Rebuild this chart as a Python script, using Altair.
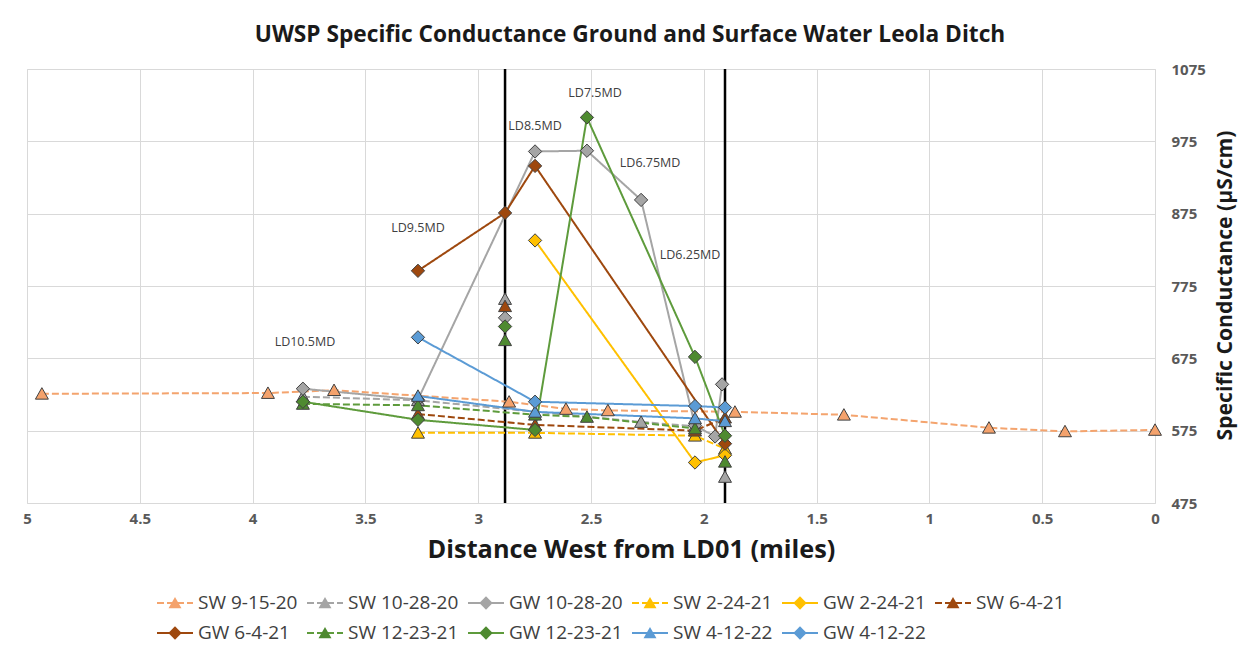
import altair as alt
import pandas as pd

# ---------------- data ----------------
SERIES = ["SW 9-15-20", "SW 10-28-20", "GW 10-28-20", "SW 2-24-21", "GW 2-24-21", "SW 6-4-21",
          "GW 6-4-21", "SW 12-23-21", "GW 12-23-21", "SW 4-12-22", "GW 4-12-22"]
KEYS = ["%02d" % (i + 1) for i in range(len(SERIES))]

LINE_COLORS = ["#F4A46E", "#A5A5A5", "#A5A5A5", "#FFC000", "#FFC000", "#9E480E",
               "#9E480E", "#5E9B3C", "#5E9B3C", "#5B9BD5", "#5B9BD5"]
FILL_COLORS = ["#F4A26C", "#A5A5A5", "#A5A5A5", "#FFC000", "#FFC000", "#9E480E",
               "#9E480E", "#4E8A30", "#4E8A30", "#5B9BD5", "#5B9BD5"]
DASHED = [7, 3]
SOLID = [1, 0]
DASHES = [DASHED, DASHED, SOLID, DASHED, SOLID, DASHED, SOLID, DASHED, SOLID, SOLID, SOLID]
TRI = "M0,-0.33L0.35,0.29L-0.35,0.29Z"
DIA = "M0,-0.36L0.36,0L0,0.36L-0.36,0Z"
SHAPES = [TRI, TRI, DIA, TRI, DIA, TRI, DIA, TRI, DIA, TRI, DIA]

# connected samples (distance west of LD01 in miles, specific conductance in uS/cm)
SW_0915_X = [4.934, 3.932, 3.639, 2.863, 2.611, 2.425, 1.862, 1.379, 0.736, 0.399, 0.0]
SW_0915_Y = [626, 627, 631, 615, 605, 603, 601, 597, 579, 574, 576]
SW_1028_X = [3.777, 3.267, 2.278, 2.039]
SW_1028_Y = [622, 617, 587, 581]
GW_1028_X = [3.777, 3.267, 2.748, 2.518, 2.278, 2.039, 1.950, 1.919]
GW_1028_Y = [633, 618, 961, 962, 894, 582, 567, 639]
SW_0224_X = [3.267, 2.748, 2.039, 1.906]
SW_0224_Y = [572, 572, 568, 550]
GW_0224_X = [2.748, 2.039, 1.906]
GW_0224_Y = [838, 531, 541]
SW_0604_X = [3.267, 2.748, 2.039, 1.906]
SW_0604_Y = [598, 583, 575, 593]
GW_0604_X = [3.267, 2.881, 2.748, 1.906]
GW_0604_Y = [796, 876, 941, 557]
SW_1223_X = [3.777, 3.267, 2.748, 2.518, 2.039]
SW_1223_Y = [612, 610, 597, 594, 578]
GW_1223_X = [3.777, 3.267, 2.748, 2.518, 2.039, 1.906]
GW_1223_Y = [615, 590, 576, 1008, 677, 568]
SW_0412_X = [3.267, 2.748, 2.039, 1.906]
SW_0412_Y = [623, 601, 592, 588]
GW_0412_X = [3.267, 2.748, 2.039, 1.906]
GW_0412_Y = [704, 615, 609, 607]

# unconnected samples
LONE_SERIES = ["SW 10-28-20", "SW 6-4-21", "GW 10-28-20", "GW 12-23-21", "SW 12-23-21",
               "SW 10-28-20", "SW 12-23-21"]
LONE_X = [2.881, 2.881, 2.881, 2.881, 2.881, 1.906, 1.906]
LONE_Y = [757, 747, 731, 719, 700, 511, 532]

# site labels
SITE_LABELS = ["LD10.5MD", "LD9.5MD", "LD8.5MD", "LD7.5MD", "LD6.75MD", "LD6.25MD"]
SITE_X = [3.768, 3.267, 2.748, 2.482, 2.238, 2.061]
SITE_Y = [698, 855, 996, 1042, 945, 818]

# reference lines
ROAD_X = [2.881, 1.906]

X_TICKS = [0, 0.5, 1, 1.5, 2, 2.5, 3, 3.5, 4, 4.5, 5]
Y_TICKS = [475, 575, 675, 775, 875, 975, 1075]

CONNECTED = {
    "SW 9-15-20": (SW_0915_X, SW_0915_Y), "SW 10-28-20": (SW_1028_X, SW_1028_Y),
    "GW 10-28-20": (GW_1028_X, GW_1028_Y), "SW 2-24-21": (SW_0224_X, SW_0224_Y),
    "GW 2-24-21": (GW_0224_X, GW_0224_Y), "SW 6-4-21": (SW_0604_X, SW_0604_Y),
    "GW 6-4-21": (GW_0604_X, GW_0604_Y), "SW 12-23-21": (SW_1223_X, SW_1223_Y),
    "GW 12-23-21": (GW_1223_X, GW_1223_Y), "SW 4-12-22": (SW_0412_X, SW_0412_Y),
    "GW 4-12-22": (GW_0412_X, GW_0412_Y),
}

rows = []
for i, s in enumerate(SERIES):
    xs, ys = CONNECTED[s]
    for x, y in zip(xs, ys):
        rows.append({"series": s, "k": KEYS[i], "x": x, "y": y, "seg": s})
    n = 0
    for ls, x, y in zip(LONE_SERIES, LONE_X, LONE_Y):
        if ls == s:
            rows.append({"series": s, "k": KEYS[i], "x": x, "y": y, "seg": "%s lone %d" % (s, n)})
            n += 1
df = pd.DataFrame(rows)
labels_df = pd.DataFrame({"label": SITE_LABELS, "x": SITE_X, "y": SITE_Y})
road_df = pd.DataFrame({"x": ROAD_X})

FONT = "Open Sans"

x_enc = alt.X("x:Q", scale=alt.Scale(domain=[0, 5], reverse=True, nice=False, zero=False),
              axis=alt.Axis(values=X_TICKS, format="~g", title="Distance West from LD01 (miles)",
                            grid=True, gridColor="#D9D9D9", gridWidth=1, domain=False,
                            ticks=False, tickSize=0, labelPadding=8, labelFlush=False,
                            labelOverlap=False, labelFont=FONT, labelFontSize=15,
                            labelFontWeight="bold", labelColor="#595959",
                            titleFont=FONT, titleFontSize=25.3, titleFontWeight="bold",
                            titleColor="#1a1a1a", titlePadding=11, titleX=604,
                            titleAlign="center"))
y_enc = alt.Y("y:Q", scale=alt.Scale(domain=[475, 1075], nice=False, zero=False),
              axis=alt.Axis(orient="right", values=Y_TICKS, format="d",
                            title="Specific Conductance (µS/cm)",
                            grid=True, gridColor="#D9D9D9", gridWidth=1, domain=False,
                            ticks=False, tickSize=0, labelPadding=16, labelFlush=False,
                            labelOverlap=False, labelFont=FONT, labelFontSize=15,
                            labelFontWeight="bold", labelColor="#595959",
                            titleFont=FONT, titleFontSize=21.2, titleFontWeight="bold",
                            titleColor="#1a1a1a", titleAngle=270, titleX=70, titleY=216,
                            titleAlign="center", titleBaseline="middle"))

LEG_COMMON = dict(orient="none", legendX=129, legendY=520, columns=6, columnPadding=8,
                  direction="horizontal", rowPadding=2, clipHeight=28, padding=0, title=None,
                  labelFont=FONT, labelFontSize=19, labelOffset=4, labelLimit=300)

label_expr = "[" + ",".join("'%s'" % s for s in SERIES) + "][toNumber(datum.value) - 1]"
line_legend = alt.Legend(symbolType="stroke", symbolSize=1296, symbolStrokeWidth=2,
                         labelColor="#404040", labelExpr=label_expr, **LEG_COMMON)
marker_legend = alt.Legend(symbolSize=1369, symbolStrokeWidth=1, symbolStrokeColor="#404040",
                           labelOpacity=0, **LEG_COMMON)

rules = alt.Chart(road_df).mark_rule(color="black", strokeWidth=2.5).encode(x=alt.X("x:Q"))

lines = alt.Chart(df).mark_line(strokeWidth=2).encode(
    x=x_enc, y=y_enc,
    color=alt.Color("k:N", scale=alt.Scale(domain=KEYS, range=LINE_COLORS), legend=line_legend),
    strokeDash=alt.StrokeDash("k:N", scale=alt.Scale(domain=KEYS, range=DASHES), legend=line_legend),
    detail="seg:N",
)

points = alt.Chart(df).mark_point(filled=True, size=1369, stroke="#404040", strokeWidth=1,
                                  opacity=1).encode(
    x="x:Q", y="y:Q",
    fill=alt.Fill("series:N", scale=alt.Scale(domain=SERIES, range=FILL_COLORS), legend=marker_legend),
    shape=alt.Shape("series:N", scale=alt.Scale(domain=SERIES, range=SHAPES), legend=marker_legend),
)

texts = alt.Chart(labels_df).mark_text(font=FONT, fontSize=12.5, color="#404040").encode(
    x="x:Q", y="y:Q", text="label:N")

chart = alt.layer(rules, lines, points, texts).properties(
    width=1128, height=434,
    autosize=alt.AutoSizeParams(type="none"),
    padding={"left": 27, "top": 69, "right": 95, "bottom": 152},
    title=alt.TitleParams("UWSP Specific Conductance Ground and Surface Water Leola Ditch",
                          font=FONT, fontSize=22.7, fontWeight="bold", color="#1a1a1a",
                          anchor="middle", offset=15, dx=39),
).configure_view(stroke="black", strokeWidth=2).configure(background="white")

chart.save("out.html", embed_options={"renderer": "svg", "actions": False})
